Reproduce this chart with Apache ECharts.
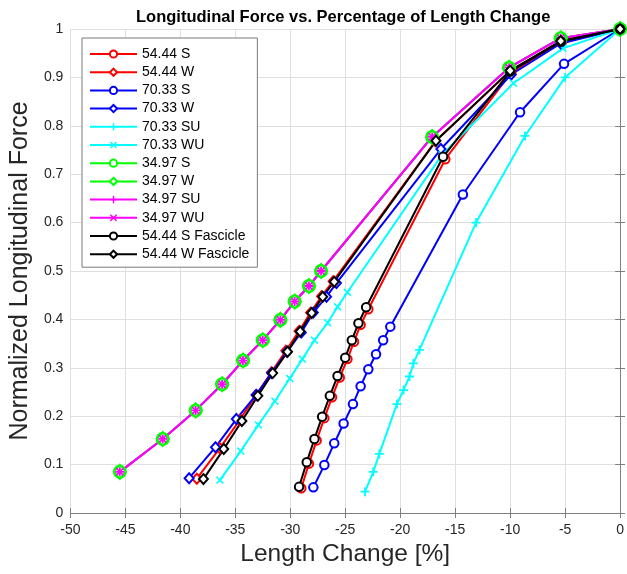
<!DOCTYPE html>
<html><head><meta charset="utf-8">
<script src="https://cdn.jsdelivr.net/npm/echarts/dist/echarts.min.js"></script>
<style>html,body{margin:0;padding:0;background:#fff}#c{width:627px;height:574px}</style>
</head><body><div id="c"></div>
<script>
// ---- tick labels ----
const xTickLabels = ['-50','-45','-40','-35','-30','-25','-20','-15','-10','-5','0'];
const yTickLabels = ['0','0.1','0.2','0.3','0.4','0.5','0.6','0.7','0.8','0.9','1'];

// ---- series data (length change %, normalized force) ----
const x5444S = [-29.0,-28.3,-27.6,-26.9,-26.2,-25.5,-24.8,-24.2,-23.6,-22.9,-15.9,-9.9,-5.3,0];
const y5444S = [0.051,0.102,0.150,0.196,0.239,0.280,0.318,0.354,0.389,0.421,0.731,0.910,0.973,1];
const x5444W = [-38.5,-36.4,-34.6,-33.1,-31.7,-30.4,-29.2,-28.15,-27.15,-26.1,-16.8,-10.0,-5.4,0];
const y5444W = [0.071,0.134,0.192,0.244,0.291,0.335,0.376,0.414,0.448,0.479,0.768,0.913,0.975,1];
const x7033S = [-27.9,-26.9,-26.0,-25.15,-24.3,-23.6,-22.9,-22.2,-21.55,-20.9,-14.3,-9.1,-5.1,0];
const y7033S = [0.053,0.099,0.144,0.185,0.225,0.262,0.297,0.328,0.357,0.385,0.658,0.828,0.928,1];
const x7033W = [-39.2,-36.8,-34.9,-33.1,-31.7,-30.3,-29.0,-27.9,-26.7,-25.8,-16.3,-9.9,-5.4,0];
const y7033W = [0.072,0.136,0.194,0.244,0.289,0.333,0.373,0.414,0.447,0.475,0.752,0.906,0.970,1];
const x7033SU = [-23.2,-22.45,-21.9,-20.3,-19.7,-19.15,-18.8,-18.25,-13.1,-8.65,-5.0,0];
const y7033SU = [0.044,0.085,0.122,0.225,0.254,0.282,0.309,0.337,0.600,0.779,0.900,1];
const x7033WU = [-36.4,-34.5,-32.9,-31.4,-30.05,-28.9,-27.8,-26.6,-25.7,-24.8,-16.2,-9.7,-5.2,0];
const y7033WU = [0.068,0.128,0.182,0.231,0.278,0.318,0.357,0.393,0.426,0.456,0.740,0.888,0.960,1];
const x3497 = [-45.5,-41.6,-38.6,-36.2,-34.3,-32.5,-30.9,-29.6,-28.3,-27.2,-17.1,-10.1,-5.4,0];
const y3497 = [0.085,0.153,0.212,0.266,0.315,0.357,0.399,0.437,0.469,0.500,0.777,0.920,0.981,1];
const x5444SF = [-29.2,-28.5,-27.8,-27.1,-26.4,-25.7,-25.0,-24.4,-23.8,-23.1,-16.1,-10.0,-5.4,0];
const y5444SF = [0.054,0.105,0.153,0.199,0.242,0.283,0.321,0.357,0.392,0.425,0.736,0.912,0.974,1];
const x5444WF = [-37.9,-36.05,-34.4,-32.95,-31.6,-30.25,-29.1,-28.05,-27.05,-26.0,-16.75,-10.0,-5.4,0];
const y5444WF = [0.070,0.132,0.190,0.242,0.289,0.333,0.375,0.413,0.447,0.478,0.769,0.914,0.975,1];

const PLUS = 'path://M4,0H6V4H10V6H6V10H4V6H0V4H4Z';
const CROSS = 'path://M1.4,0L5,3.6L8.6,0L10,1.4L6.4,5L10,8.6L8.6,10L5,6.4L1.4,10L0,8.6L3.6,5L0,1.4Z';

const defs = [
  {name:'54.44 S', x:x5444S, y:y5444S, c:'#ff0000', sym:'emptyCircle', size:8.5},
  {name:'54.44 W', x:x5444W, y:y5444W, c:'#ff0000', sym:'emptyDiamond', size:[9,10]},
  {name:'70.33 S', x:x7033S, y:y7033S, c:'#0000ff', sym:'emptyCircle', size:8.5},
  {name:'70.33 W', x:x7033W, y:y7033W, c:'#0000ff', sym:'emptyDiamond', size:[9,10]},
  {name:'70.33 SU', x:x7033SU, y:y7033SU, c:'#00ffff', sym:PLUS, size:9},
  {name:'70.33 WU', x:x7033WU, y:y7033WU, c:'#00ffff', sym:CROSS, size:8},
  {name:'34.97 S', x:x3497, y:y3497, c:'#00ff00', sym:'emptyCircle', size:12, bw:3},
  {name:'34.97 W', x:x3497, y:y3497, c:'#00ff00', sym:'emptyDiamond', size:[12,14], bw:2.5},
  {name:'34.97 SU', x:x3497, y:y3497, c:'#ff00ff', sym:PLUS, size:9},
  {name:'34.97 WU', x:x3497, y:y3497, c:'#ff00ff', sym:CROSS, size:8},
  {name:'54.44 S Fascicle', x:x5444SF, y:y5444SF, c:'#000000', sym:'emptyCircle', size:8.5},
  {name:'54.44 W Fascicle', x:x5444WF, y:y5444WF, c:'#000000', sym:'emptyDiamond', size:[9,10]}
];

const FONT = '"Liberation Sans", Arial, Helvetica, sans-serif';
const xMin = -50, xMax = 0, xStep = 5, yMin = 0, yMax = 1, yStep = 0.1;

const chart = echarts.init(document.getElementById('c'), null, {renderer:'canvas'});
const axisLineColor = '#808080';
chart.setOption({
  animation: false,
  backgroundColor: '#fff',
  title: {
    text: 'Longitudinal Force vs. Percentage of Length Change',
    left: 136, top: 9, padding: 0,
    textStyle: {fontFamily: FONT, fontSize: 16.5, fontWeight: 'bold', color: '#000'}
  },
  grid: {left: 65, right: 4, top: 29, bottom: 61, containLabel: false},
  legend: {
    orient: 'vertical', left: 82, top: 38,
    padding: [9, 8, 6, 7],
    itemWidth: 47, itemHeight: 9, itemGap: 4.2,
    backgroundColor: '#fff', borderColor: '#7a7a7a', borderWidth: 1,
    textStyle: {fontFamily: FONT, fontSize: 14, color: '#000'},
    data: defs.map(d => d.name)
  },
  xAxis: [{
    type: 'value', min: xMin, max: xMax, interval: xStep,
    name: 'Length Change [%]', nameLocation: 'middle', nameGap: 26,
    nameTextStyle: {fontFamily: FONT, fontSize: 24.5, color: '#262626'},
    axisLine: {show: true, lineStyle: {color: axisLineColor, width: 1}},
    axisTick: {show: true, inside: true, length: 5, lineStyle: {color: axisLineColor}},
    axisLabel: {fontFamily: FONT, fontSize: 14, color: '#262626', margin: 10,
      formatter: v => xTickLabels[Math.round((v - xMin) / xStep)]},
    splitLine: {show: true, lineStyle: {color: '#dfdfdf', width: 1}}
  }, {
    type: 'value', position: 'top', min: xMin, max: xMax, interval: xStep,
    axisLine: {show: true, lineStyle: {color: axisLineColor, width: 1}},
    axisTick: {show: true, inside: true, length: 5, lineStyle: {color: axisLineColor}},
    axisLabel: {show: false}, splitLine: {show: false}
  }],
  yAxis: [{
    type: 'value', min: yMin, max: yMax, interval: yStep,
    name: 'Normalized Longitudinal Force', nameLocation: 'middle', nameGap: 33,
    nameTextStyle: {fontFamily: FONT, fontSize: 25, color: '#262626'},
    axisLine: {show: true, lineStyle: {color: axisLineColor, width: 1}},
    axisTick: {show: true, inside: true, length: 5, lineStyle: {color: axisLineColor}},
    axisLabel: {fontFamily: FONT, fontSize: 14, color: '#262626', margin: 7,
      formatter: v => yTickLabels[Math.round((v - yMin) / yStep)]},
    splitLine: {show: true, lineStyle: {color: '#dfdfdf', width: 1}}
  }, {
    type: 'value', position: 'right', min: yMin, max: yMax, interval: yStep,
    axisLine: {show: true, lineStyle: {color: axisLineColor, width: 1}},
    axisTick: {show: true, inside: true, length: 5, lineStyle: {color: axisLineColor}},
    axisLabel: {show: false}, splitLine: {show: false}
  }],
  series: defs.map(d => {
    const isPath = d.sym.indexOf('path://') === 0;
    return {
      type: 'line', name: d.name,
      data: d.x.map((v, i) => [v, d.y[i]]),
      symbol: d.sym, symbolSize: d.size, showAllSymbol: true,
      lineStyle: {color: d.c, width: 2},
      itemStyle: isPath ? {color: d.c, borderWidth: 0}
                        : {color: d.c, borderColor: d.c, borderWidth: d.bw || 2},
      emphasis: {disabled: true},
      silent: true
    };
  })
});
</script></body></html>
